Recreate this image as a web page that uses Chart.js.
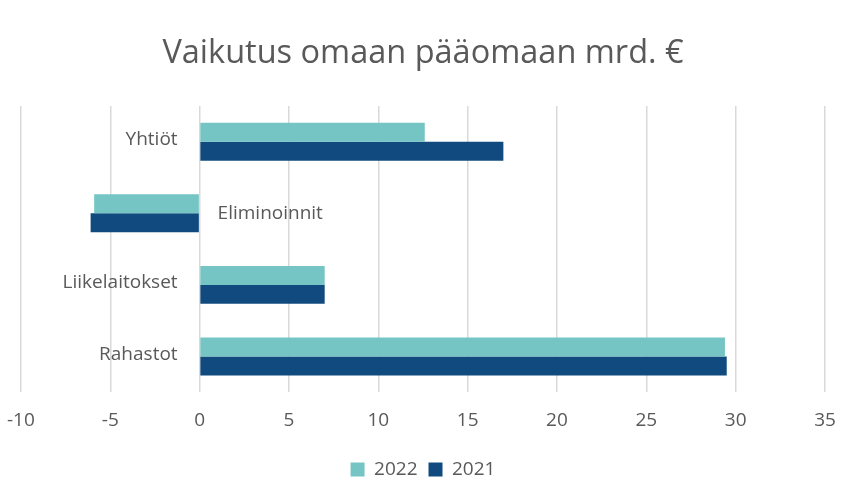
<!DOCTYPE html>
<html>
<head>
<meta charset="utf-8">
<script src="https://cdn.jsdelivr.net/npm/chart.js@4.4.0/dist/chart.umd.min.js"></script>
<style>
  html, body { margin: 0; padding: 0; background: #fff; overflow: hidden; }
  #wrap { position: relative; left: -10px; width: 875px; height: 489px; }
</style>
</head>
<body>
<div id="wrap"><canvas id="chart"></canvas></div>
<script>
// Data
const categories = ['Yhtiöt', 'Eliminoinnit', 'Liikelaitokset', 'Rahastot'];
const values2022 = [12.6, -5.9, 7.0, 29.4];
const values2021 = [17.0, -6.1, 7.0, 29.5];
const seriesLabels = ['2022', '2021'];
const xMin = -10, xMax = 35, xStep = 5;

const textColor = '#595959';
const fontFamily = "'Open Sans', 'Noto Sans', sans-serif";

// Category labels drawn next to the zero line, like the Excel original
const axisLabels = {
    id: 'axisLabels',
    afterDatasetsDraw(chart) {
        const ctx = chart.ctx;
        const x = chart.scales.x;
        const y = chart.scales.y;
        const zero = x.getPixelForValue(0);
        ctx.save();
        ctx.font = '19px ' + fontFamily;
        ctx.fillStyle = textColor;
        ctx.textBaseline = 'middle';
        categories.forEach((cat, i) => {
            const yc = y.getPixelForValue(i);
            const neg = values2022[i] + values2021[i] < 0;
            if (neg) {
                ctx.textAlign = 'left';
                ctx.fillText(cat, zero + 18, yc);
            } else {
                ctx.textAlign = 'right';
                ctx.fillText(cat, zero - 22, yc - 2);
            }
        });
        ctx.restore();
    }
};

new Chart(document.getElementById('chart'), {
    type: 'bar',
    data: {
        labels: categories,
        datasets: [
            { label: seriesLabels[0], data: values2022, backgroundColor: '#74C5C3', borderColor: '#9fd6d4', borderWidth: 0 },
            { label: seriesLabels[1], data: values2021, backgroundColor: '#114A7E', borderColor: '#5a86ad', borderWidth: 0 }
        ]
    },
    options: {
        indexAxis: 'y',
        responsive: true,
        maintainAspectRatio: false,
        animation: false,
        layout: { padding: { left: 5, right: 14, top: 10, bottom: 0 } },
        datasets: { bar: { categoryPercentage: 0.53, barPercentage: 1.0 } },
        scales: {
            x: {
                min: xMin,
                max: xMax,
                ticks: { stepSize: xStep, color: textColor, font: { family: fontFamily, size: 19 }, padding: 17 },
                grid: { color: '#d9d9d9', lineWidth: 1.5, drawTicks: false },
                border: { display: false }
            },
            y: {
                ticks: { display: false },
                grid: { display: false },
                border: { display: false }
            },
            // empty spacer on the right so the plot ends where the original does
            yRight: {
                type: 'category',
                position: 'right',
                ticks: { display: false },
                grid: { display: false },
                border: { display: false },
                afterFit(scale) { scale.width = 26; }
            }
        },
        plugins: {
            title: {
                display: true,
                text: 'Vaikutus omaan pääomaan mrd. €',
                color: textColor,
                font: { family: fontFamily, size: 32.5, weight: 'normal' },
                padding: { top: 24, bottom: 33 }
            },
            legend: {
                position: 'bottom',
                labels: { color: textColor, font: { family: fontFamily, size: 19 }, boxWidth: 14, boxHeight: 14, padding: 11 }
            },
            tooltip: { enabled: false }
        }
    },
    plugins: [axisLabels]
});
</script>
</body>
</html>
